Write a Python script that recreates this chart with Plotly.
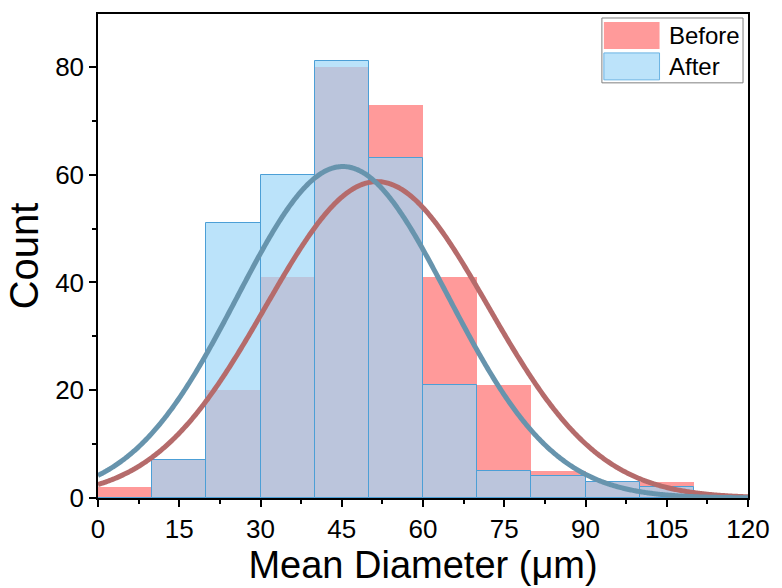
import numpy as np
import plotly.graph_objects as go

# ---- data ----
bin_centers = [5, 15, 25, 35, 45, 55, 65, 75, 85, 95, 105, 115]
before_counts = [2, 7, 20, 41, 80, 73, 41, 21, 5, 3, 3, 0]
after_counts = [0, 7, 51, 60, 81, 63, 21, 5, 4, 3, 2, 0]
# Gaussian fit parameters (amplitude, centre, sigma)
before_fit = [58.7, 51.5, 20.5]
after_fit = [61.5, 45.2, 19.5]
x_ticks = [0, 15, 30, 45, 60, 75, 90, 105, 120]
y_ticks = [0, 20, 40, 60, 80]

W, H = 782, 588
L, R, T, B = 98, 30, 13, 90
FONT = "Liberation Sans, Arial, sans-serif"

fig = go.Figure()
fig.add_trace(go.Bar(x=bin_centers, y=before_counts, width=10,
                     marker=dict(color="rgb(255,154,154)",
                                 line=dict(color="rgb(255,154,154)", width=0)),
                     name="Before", showlegend=False))
fig.add_trace(go.Bar(x=bin_centers, y=after_counts, width=10,
                     marker=dict(color="rgba(158,215,248,0.7)",
                                 line=dict(color="#4c9fd6", width=1)),
                     name="After", showlegend=False))

xc = np.linspace(0, 120, 600)
def gauss(p):
    a, m, s = p
    return a * np.exp(-(xc - m) ** 2 / (2 * s * s))

fig.add_trace(go.Scatter(x=xc, y=gauss(before_fit), mode="lines",
                         line=dict(color="#b56b6b", width=5, simplify=False), showlegend=False))
fig.add_trace(go.Scatter(x=xc, y=gauss(after_fit), mode="lines",
                         line=dict(color="#6794ad", width=5, simplify=False), showlegend=False))

pw, ph = W - L - R, H - T - B
def px(x):
    return (x - L) / pw
def py(y):
    return 1 - (y - T) / ph

shapes = [
    dict(type="rect", xref="paper", yref="paper", x0=px(605), x1=px(747), y0=py(82), y1=py(17),
         line=dict(color="#7f7f7f", width=1), fillcolor="white", layer="above"),
    dict(type="rect", xref="paper", yref="paper", x0=px(607), x1=px(663), y0=py(48), y1=py(21),
         line=dict(width=0), fillcolor="rgb(255,154,154)", layer="above"),
    dict(type="rect", xref="paper", yref="paper", x0=px(607), x1=px(663), y0=py(79), y1=py(52),
         line=dict(color="#6bb3e3", width=1), fillcolor="rgb(188,227,250)", layer="above"),
]
annotations = [
    dict(xref="paper", yref="paper", x=px(670), y=py(35), text="Before", showarrow=False,
         xanchor="left", yanchor="middle", font=dict(family=FONT, size=24, color="black")),
    dict(xref="paper", yref="paper", x=px(670), y=py(66), text="After", showarrow=False,
         xanchor="left", yanchor="middle", font=dict(family=FONT, size=24, color="black")),
]

axis_common = dict(showgrid=False, zeroline=False, showline=True, linecolor="black",
                   linewidth=1.5, mirror=True, ticks="outside", ticklen=7, tickwidth=1.5,
                   tickcolor="black", tickfont=dict(family=FONT, size=26, color="black"))

fig.update_layout(
    width=W, height=H, barmode="overlay", bargap=0,
    paper_bgcolor="white", plot_bgcolor="white",
    margin=dict(l=L, r=R, t=T, b=B, pad=0),
    shapes=shapes, annotations=annotations,
    xaxis=dict(range=[0, 120], tickvals=x_ticks,
               minor=dict(ticks="outside", ticklen=4, tickwidth=1.5, tickcolor="black", dtick=7.5, tick0=0),
               title=dict(text="Mean Diameter (\u03bcm)", font=dict(family=FONT, size=38, color="black"), standoff=2),
               **axis_common),
    yaxis=dict(range=[0, 89.8], tickvals=y_ticks,
               minor=dict(ticks="outside", ticklen=4, tickwidth=1.5, tickcolor="black", dtick=10, tick0=0),
               title=dict(text="Count", font=dict(family=FONT, size=40, color="black"), standoff=4),
               **axis_common),
)

fig.write_html("out.html")
